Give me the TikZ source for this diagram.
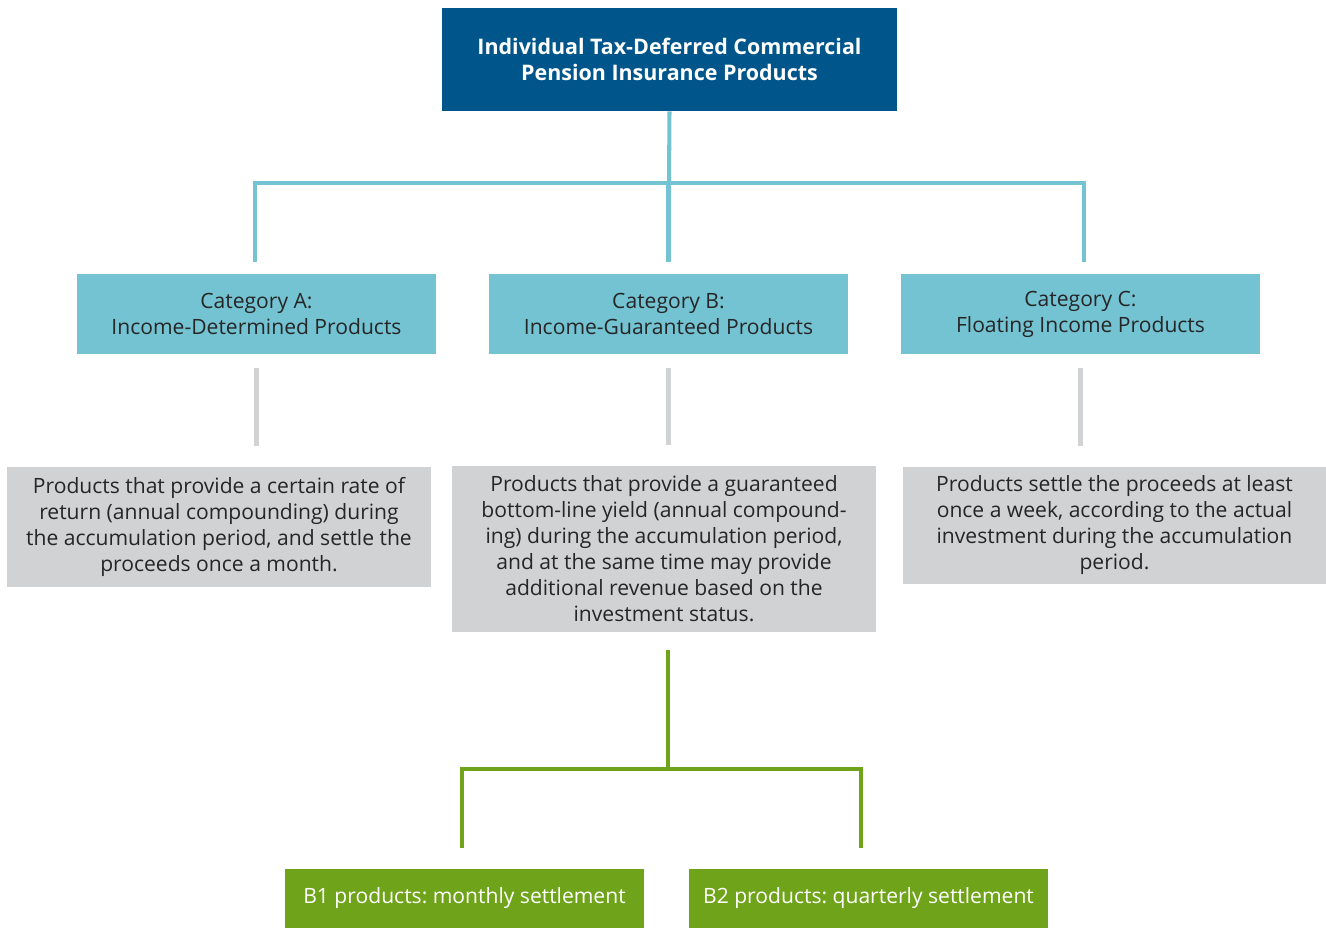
\documentclass[tikz,border=0pt]{standalone}
\usepackage{fontspec}
\setmainfont{Open Sans}
\frenchspacing
\definecolor{topblue}{HTML}{00568A}
\definecolor{catteal}{HTML}{74C3D3}
\definecolor{descgray}{HTML}{D1D2D4}
\definecolor{subgreen}{HTML}{6FA41A}
\definecolor{textdark}{HTML}{262626}

\begin{document}
\begin{tikzpicture}
  [x=0.02cm,y=-0.02cm,
   every node/.style={inner sep=0pt,align=center},
   topbox/.style={fill=topblue,text=white,font=\fontsize{12.2}{14.4}\selectfont\bfseries,
     minimum width=9.1cm,minimum height=2.06cm},
   catbox/.style={fill=catteal,text=textdark,font=\fontsize{12}{14.8}\selectfont,
     minimum width=7.18cm,minimum height=1.6cm},
   descbox/.style={fill=descgray,text=textdark,font=\fontsize{12}{14.8}\selectfont,
     minimum width=8.48cm},
   subbox/.style={fill=subgreen,text=white,font=\fontsize{12}{14.8}\selectfont,
     minimum width=7.2cm,minimum height=1.18cm},
   tealline/.style={draw=catteal,line width=2.3pt},
   grayline/.style={draw=descgray,line width=2.3pt},
   greenline/.style={draw=subgreen,line width=2.3pt}]
  \useasboundingbox (0,0) rectangle (1326,929);

  \node[topbox] (top) at (669.5,59.5) {Individual Tax-Deferred Commercial\\Pension Insurance Products};

  \node[catbox] (catA) at (256.5,314) {Category A:\\Income-Determined Products};
  \node[catbox] (catB) at (668.5,314) {Category B:\\Income-Guaranteed Products};
  \node[catbox] (catC) at (1080.5,314) {Category C:\\Floating Income Products};

  \node[descbox,minimum height=2.4cm] (descA) at (219,527)
    {\rule{0pt}{7pt}Products that provide a certain rate of\\return (annual compounding) during\\the accumulation period, and settle the\\proceeds once a month.};
  \node[descbox,minimum height=3.32cm] (descB) at (664,549)
    {\rule{0pt}{7pt}Products that provide a guaranteed\\bottom-line yield (annual compound-\\ing) during the accumulation period,\\and at the same time may provide\\additional revenue based on the\\investment status.};
  \node[descbox,minimum height=2.34cm] (descC) at (1114.5,525.5)
    {\rule{0pt}{7pt}Products settle the proceeds at least\\once a week, according to the actual\\investment during the accumulation\\period.};

  \node[subbox] (b1) at (464.5,898.5) {B1 products: monthly settlement};
  \node[subbox] (b2) at (868.5,898.5) {B2 products: quarterly settlement};

  % top level
  \coordinate (tbus) at (669,183);
  \draw[tealline] (top.south) -- (tbus);
  \foreach \n/\dx in {catA/-0.03,catB/0,catC/0.07}
    \draw[tealline,shorten >=0.24cm] (tbus) -| ([xshift=\dx cm]\n.north);

  % categories to descriptions
  \foreach \c/\d in {catA/descA,catB/descB,catC/descC}
    \draw[grayline,shorten <=0.28cm,shorten >=0.41cm] (\c.south) -- (\c.south |- \d.north);

  % B split
  \coordinate (gbus) at (668,769);
  \draw[greenline,shorten <=0.36cm] (gbus |- descB.south) -- (gbus);
  \foreach \n/\dx in {b1/-0.05,b2/-0.15}
    \draw[greenline,shorten >=0.42cm] (gbus) -| ([xshift=\dx cm]\n.north);
\end{tikzpicture}
\end{document}
